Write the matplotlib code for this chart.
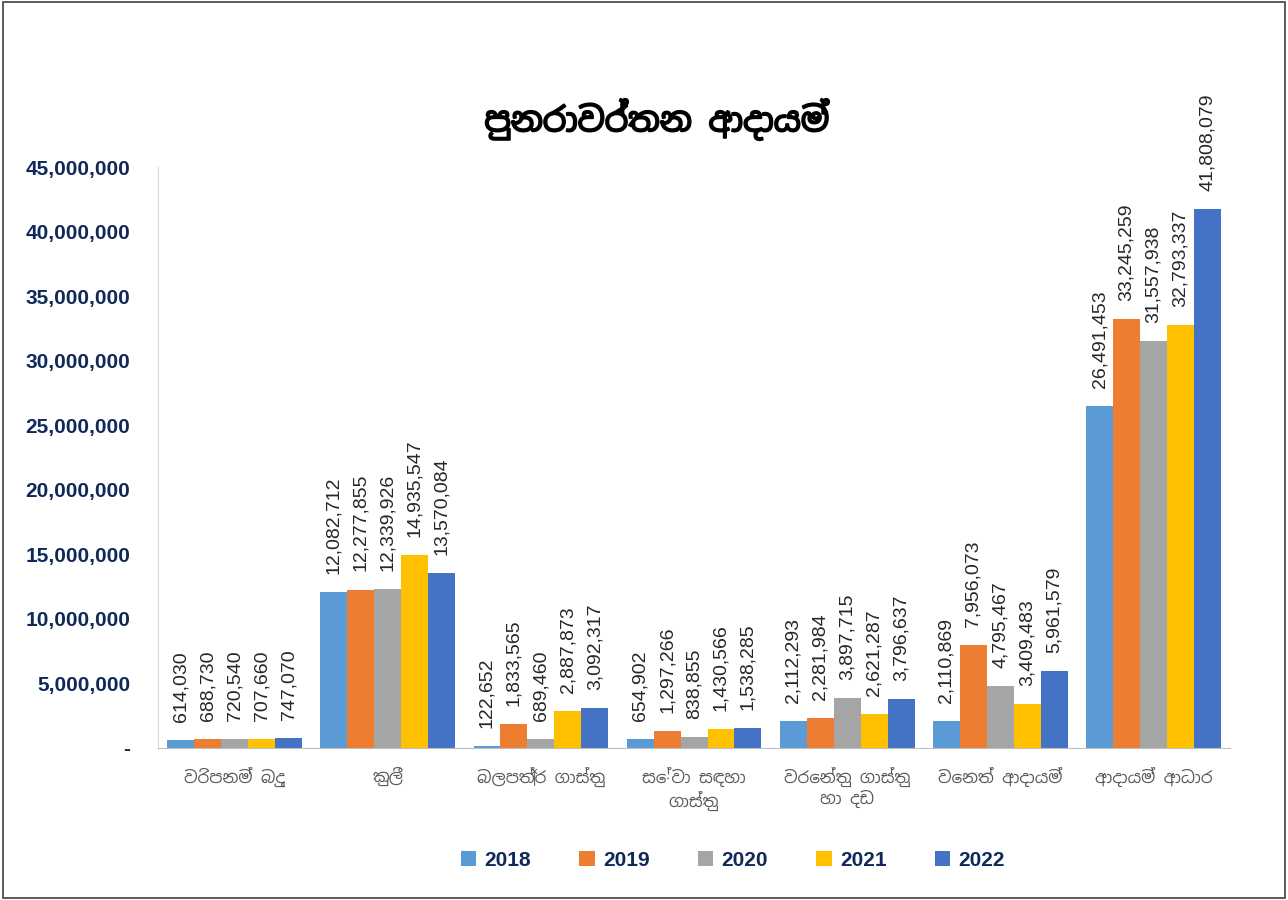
import matplotlib.pyplot as plt
import matplotlib.patheffects as pe
import numpy as np
from matplotlib.ticker import FuncFormatter

plt.rcParams['font.family'] = ['Noto Sans Sinhala', 'Noto Sans', 'DejaVu Sans']

categories = ["වරිපනම් බදු", "කුලී", "බලපත්‍ර ගාස්තු", "සේවා සඳහා\nගාස්තු",
              "වරෙන්තු ගාස්තු\nහා දඩ", "වෙනත් ආදායම්", "ආදායම් ආධාර"]
years = ["2018", "2019", "2020", "2021", "2022"]
v2018 = [614030, 12082712, 122652, 654902, 2112293, 2110869, 26491453]
v2019 = [688730, 12277855, 1833565, 1297266, 2281984, 7956073, 33245259]
v2020 = [720540, 12339926, 689460, 838855, 3897715, 4795467, 31557938]
v2021 = [707660, 14935547, 2887873, 1430566, 2621287, 3409483, 32793337]
v2022 = [747070, 13570084, 3092317, 1538285, 3796637, 5961579, 41808079]
series = [v2018, v2019, v2020, v2021, v2022]
colors = ["#5B9BD5", "#ED7D31", "#A5A5A5", "#FFC000", "#4472C4"]

num_font = ['Liberation Sans', 'DejaVu Sans']
navy = '#10285A'

fig = plt.figure(figsize=(12.88, 9.0), dpi=100)
ax = fig.add_axes([0.1227, 0.169, 0.8323, 0.645])

x = np.arange(len(categories))
w = 0.176
for i, (vals, c, yr) in enumerate(zip(series, colors, years)):
    pos = x + (i - 2) * w
    bars = ax.bar(pos, vals, width=w, color=c, label=yr)
    for b, v in zip(bars, vals):
        ax.annotate(f"{v:,}", (b.get_x() + b.get_width() / 2, v),
                    xytext=(0, 13), textcoords='offset points',
                    rotation=90, ha='center', va='bottom', fontsize=14,
                    color='#262626', family=num_font)

ax.set_xlim(-0.5, len(categories) - 0.5)
ax.set_ylim(0, 45000000)
ax.set_yticks(np.arange(0, 45000001, 5000000))
ax.yaxis.set_major_formatter(FuncFormatter(lambda v, p: "-" if v == 0 else f"{int(v):,}"))
for lbl in ax.get_yticklabels():
    lbl.set_fontweight('bold')
    lbl.set_family(num_font)
    lbl.set_color(navy)
    lbl.set_fontsize(15)
ax.tick_params(axis='y', length=0, pad=20)
ax.set_xticks(x)
ax.set_xticklabels(categories, fontsize=12, color='#595959')
ax.tick_params(axis='x', length=0, pad=14)

for s in ['top', 'right']:
    ax.spines[s].set_visible(False)
ax.spines['left'].set_color('#D9D9D9')
ax.spines['bottom'].set_color('#BFBFBF')

fig.text(0.51, 0.867, "පුනරාවර්තන ආදායම්", ha='center', va='center',
         fontsize=24, fontweight='bold', color='black',
         path_effects=[pe.withStroke(linewidth=1.3, foreground='black')])

leg = fig.legend(loc='center', bbox_to_anchor=(0.569, 0.044), ncol=5, frameon=False,
                 handlelength=0.75, handleheight=0.75, columnspacing=2.3, handletextpad=0.4,
                 prop={'size': 15, 'weight': 'bold', 'family': num_font})
for t in leg.get_texts():
    t.set_color(navy)

fig.patches.append(plt.Rectangle((0.002, 0.002), 0.996, 0.996, transform=fig.transFigure,
                                 fill=False, edgecolor='#404040', linewidth=1.2))

fig.savefig("out.png", dpi=100)
